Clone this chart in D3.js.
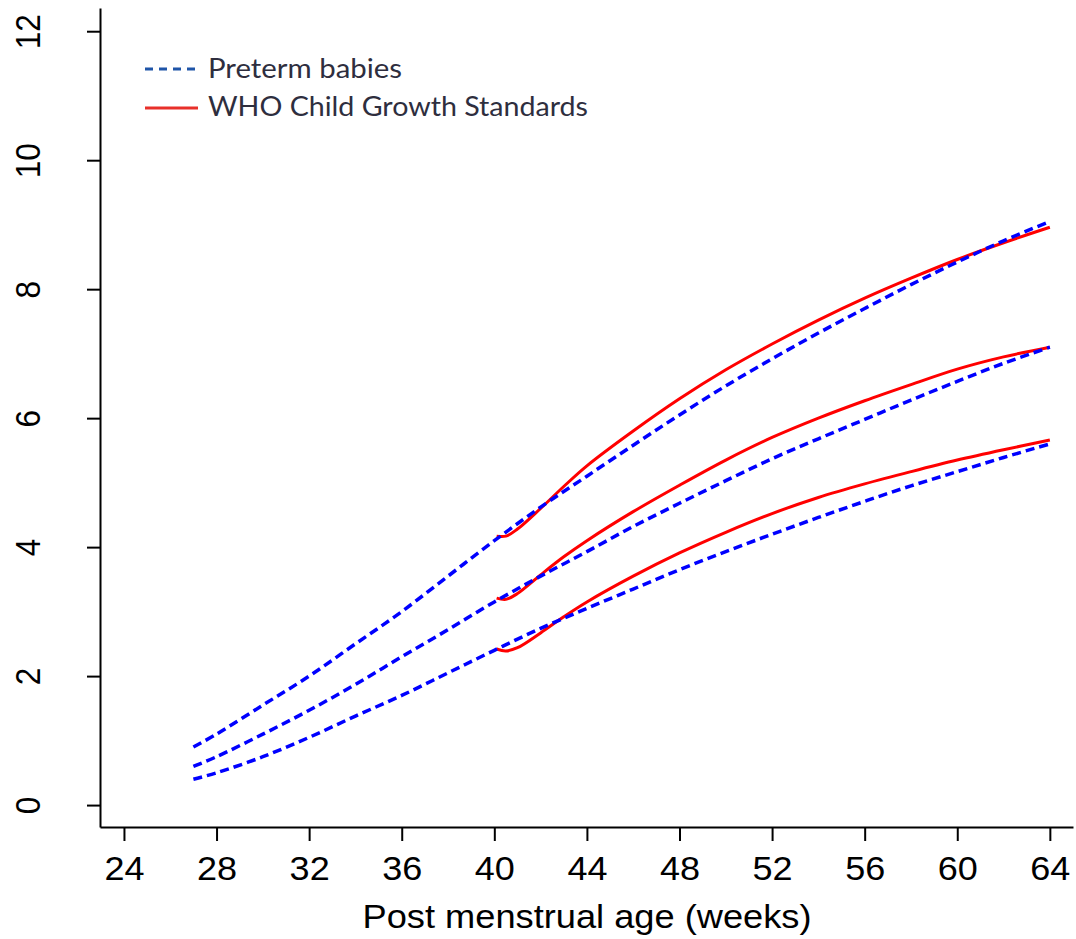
<!DOCTYPE html>
<html>
<head>
<meta charset="utf-8">
<script src="https://cdn.jsdelivr.net/npm/d3@7"></script>
<style>
  html, body { margin: 0; padding: 0; background: #fff; }
  svg { display: block; }
</style>
</head>
<body>
<svg id="chart" width="1076" height="939"></svg>
<script>
// ---- Data ----
const weeksPreterm = [27, 28, 30, 32, 34, 36, 38, 40, 42, 44, 46, 48, 50, 52, 54, 56, 58, 60, 62, 64];
const pretermUpper = [0.9, 1.1, 1.55, 2.0, 2.5, 3.0, 3.55, 4.1, 4.62, 5.1, 5.58, 6.05, 6.5, 6.92, 7.32, 7.7, 8.07, 8.42, 8.75, 9.05];
const pretermMid   = [0.6, 0.75, 1.1, 1.47, 1.87, 2.3, 2.72, 3.15, 3.55, 3.93, 4.32, 4.68, 5.03, 5.37, 5.68, 5.98, 6.28, 6.57, 6.85, 7.1];
const pretermLower = [0.4, 0.5, 0.75, 1.05, 1.38, 1.7, 2.05, 2.4, 2.74, 3.05, 3.35, 3.65, 3.93, 4.2, 4.46, 4.71, 4.95, 5.17, 5.39, 5.6];

const weeksWHO = [40.1, 40.5, 41, 42, 43, 44, 46, 48, 50, 52, 54, 56, 58, 60, 62, 64];
const whoUpper = [4.17, 4.17, 4.28, 4.6, 4.94, 5.26, 5.8, 6.3, 6.75, 7.15, 7.52, 7.86, 8.17, 8.46, 8.72, 8.96];
const whoMid   = [3.21, 3.19, 3.28, 3.57, 3.85, 4.1, 4.55, 4.96, 5.35, 5.7, 6.0, 6.27, 6.52, 6.76, 6.95, 7.1];
const whoLower = [2.42, 2.39, 2.44, 2.67, 2.92, 3.15, 3.55, 3.91, 4.23, 4.52, 4.77, 4.98, 5.17, 5.35, 5.51, 5.66];

const xTicks = [24, 28, 32, 36, 40, 44, 48, 52, 56, 60, 64];
const yTicks = [0, 2, 4, 6, 8, 10, 12];
const legendLabels = ["Preterm babies", "WHO Child Growth Standards"];
const xTitle = "Post menstrual age (weeks)";

// ---- Layout ----
const svg = d3.select("#chart");
const x = d3.scaleLinear().domain([22.965, 65]).range([100, 1073]);
const y = d3.scaleLinear().domain([-0.34, 12.36]).range([827, 8]);
const font = "'Liberation Sans', Arial, sans-serif";

// axes
const xAxis = svg.append("g").attr("transform", "translate(0,827)")
  .call(d3.axisBottom(x).tickValues(xTicks).tickSize(14).tickSizeOuter(0).tickPadding(0));
xAxis.select(".domain").attr("stroke", "#000").attr("stroke-width", 2);
xAxis.selectAll(".tick line").attr("stroke", "#000").attr("stroke-width", 2);
xAxis.selectAll(".tick text")
  .attr("y", 53).attr("dy", 0)
  .attr("font-family", font).attr("font-size", 34).attr("fill", "#000")
  .attr("transform", "scale(1.06,1)");

const yAxis = svg.append("g").attr("transform", "translate(100,0)")
  .call(d3.axisLeft(y).tickValues(yTicks).tickSize(13).tickSizeOuter(0));
yAxis.select(".domain").attr("stroke", "#000").attr("stroke-width", 2);
yAxis.selectAll(".tick line").attr("stroke", "#000").attr("stroke-width", 2);
yAxis.selectAll(".tick text")
  .attr("x", null).attr("dy", 0)
  .attr("text-anchor", "middle")
  .attr("transform", "translate(-60,0) rotate(-90) scale(0.9,1)")
  .attr("font-family", font).attr("font-size", 35).attr("fill", "#000");

// x title
svg.append("text")
  .attr("x", 587).attr("y", 928)
  .attr("text-anchor", "middle")
  .attr("font-family", font).attr("font-size", 33)
  .attr("textLength", 449).attr("lengthAdjust", "spacingAndGlyphs")
  .text(xTitle);

// curves
const line = d3.line().x(d => x(d[0])).y(d => y(d[1])).curve(d3.curveCatmullRom.alpha(0.5));

[whoUpper, whoMid, whoLower].forEach(vals => {
  svg.append("path")
    .attr("d", line(weeksWHO.map((w, i) => [w, vals[i]])))
    .attr("fill", "none").attr("stroke", "#ff0000").attr("stroke-width", 3);
});
[pretermUpper, pretermMid, pretermLower].forEach(vals => {
  svg.append("path")
    .attr("d", line(weeksPreterm.map((w, i) => [w, vals[i]])))
    .attr("fill", "none").attr("stroke", "#0000ff").attr("stroke-width", 3.5)
    .attr("stroke-dasharray", "9,5");
});

// legend
const legendFont = "Lato, 'Open Sans', sans-serif";
const lg = svg.append("g");
lg.append("line").attr("x1", 145).attr("x2", 198).attr("y1", 69).attr("y2", 69)
  .attr("stroke", "#1f55a8").attr("stroke-width", 3).attr("stroke-dasharray", "8,6");
lg.append("line").attr("x1", 145).attr("x2", 198).attr("y1", 108).attr("y2", 108)
  .attr("stroke", "#e8302a").attr("stroke-width", 3);
lg.append("text").attr("x", 208).attr("y", 78)
  .attr("font-family", legendFont).attr("font-size", 26).attr("fill", "#2e2e3e")
  .attr("textLength", 194).attr("lengthAdjust", "spacingAndGlyphs")
  .text(legendLabels[0]);
lg.append("text").attr("x", 208).attr("y", 116)
  .attr("font-family", legendFont).attr("font-size", 26).attr("fill", "#2e2e3e")
  .attr("textLength", 380).attr("lengthAdjust", "spacingAndGlyphs")
  .text(legendLabels[1]);
</script>
</body>
</html>
